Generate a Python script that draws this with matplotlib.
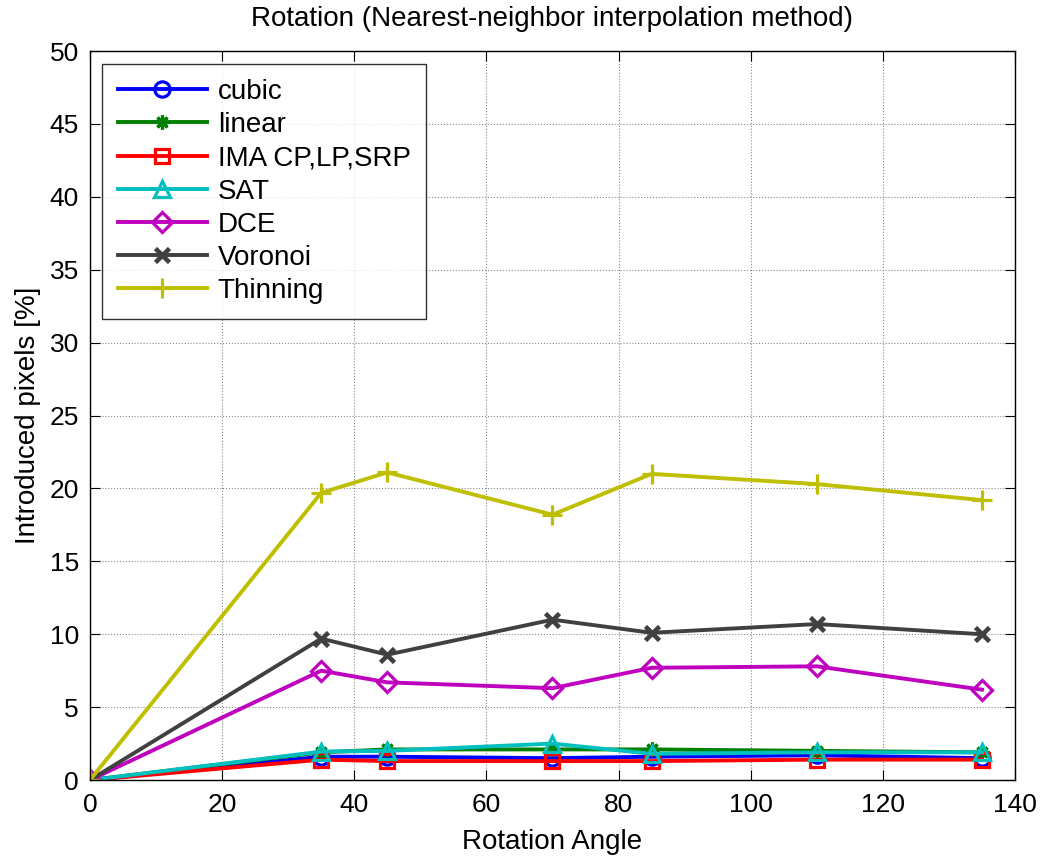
import matplotlib
matplotlib.use('Agg')
import matplotlib.pyplot as plt

angles = [0, 35, 45, 70, 85, 110, 135]
cubic = [0, 1.6, 1.6, 1.5, 1.6, 1.7, 1.5]
linear = [0, 1.9, 2.1, 2.1, 2.1, 2.0, 1.9]
ima = [0, 1.4, 1.3, 1.3, 1.3, 1.4, 1.4]
sat = [0, 1.95, 2.0, 2.5, 1.8, 1.9, 1.9]
dce = [0, 7.5, 6.7, 6.3, 7.7, 7.8, 6.2]
voronoi = [0, 9.7, 8.6, 11.0, 10.1, 10.7, 10.0]
thinning = [0, 19.7, 21.1, 18.2, 21.0, 20.3, 19.2]

plt.rcParams['font.family'] = ['Liberation Sans', 'DejaVu Sans']

fig = plt.figure(figsize=(10.45, 8.57), dpi=100)
ax = fig.add_axes([0.0861, 0.0898, 0.8852, 0.8506])

lw = 2.8
ms = 11
mew = 2.3
ax.plot(angles, cubic, color='#0000ff', marker='o', mfc='none', lw=lw, ms=ms, mew=mew, label='cubic')
ax.plot(angles, linear, color='#008000', marker=(8, 2, 0), lw=lw, ms=ms - 1, mew=mew, label='linear')
ax.plot(angles, ima, color='#ff0000', marker='s', mfc='none', lw=lw, ms=ms - 1, mew=mew, label='IMA CP,LP,SRP')
ax.plot(angles, sat, color='#00bfbf', marker='^', mfc='none', lw=lw, ms=ms, mew=mew, label='SAT')
ax.plot(angles, dce, color='#bf00bf', marker='D', mfc='none', lw=lw, ms=ms - 1, mew=mew, label='DCE')
ax.plot(angles, voronoi, color='#404040', marker='x', lw=lw, ms=ms - 1, mew=mew + 1, label='Voronoi')
ax.plot(angles, thinning, color='#bfbf00', marker='+', lw=lw, ms=ms + 4, mew=mew, label='Thinning')

ax.set_xlim(0, 140)
ax.set_ylim(0, 50)
ax.set_xticks(range(0, 141, 20))
ax.set_yticks(range(0, 51, 5))
ax.tick_params(direction='in', top=True, right=True, labelsize=19, length=7)
ax.tick_params(axis='x', pad=9)
ax.tick_params(axis='y', pad=8)
ax.grid(True, linestyle=':', color='#888888', lw=0.8)
for s in ax.spines.values():
    s.set_linewidth(1.0)

ax.set_xlabel('Rotation Angle', fontsize=20, labelpad=9)
ax.set_ylabel('Introduced pixels [%]', fontsize=20, labelpad=6)
ax.set_title('Rotation (Nearest-neighbor interpolation method)', fontsize=20, pad=18)

leg = ax.legend(loc='upper left', fontsize=20, fancybox=False, edgecolor='black',
                borderaxespad=0.45, handlelength=3.2, handletextpad=0.4,
                labelspacing=0.26, borderpad=0.55)
leg.get_frame().set_linewidth(1.0)

fig.savefig('out.png', dpi=100)
